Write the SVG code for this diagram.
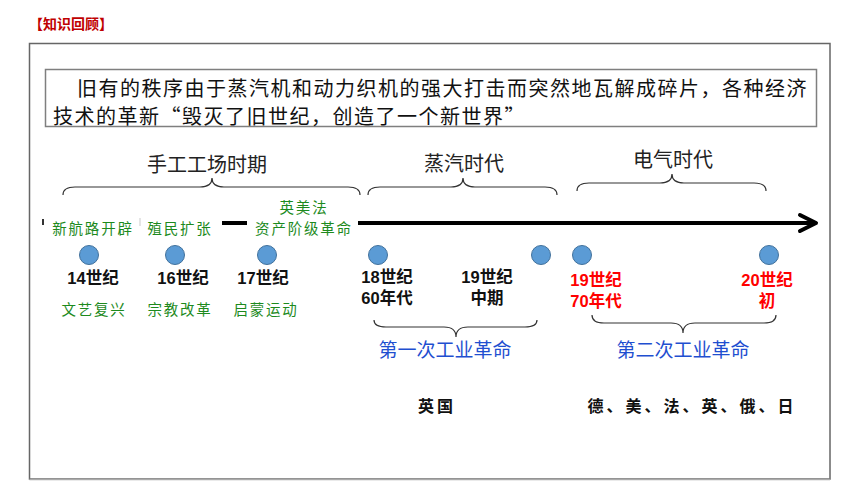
<svg xmlns="http://www.w3.org/2000/svg" width="860" height="484" viewBox="0 0 860 484">
<defs>
<style>
text{font-family:"Noto Sans CJK SC","Liberation Sans",sans-serif;dominant-baseline:central}
.title{font-size:14px;font-weight:bold;fill:#c00000}
.para{font-size:20px;fill:#111;letter-spacing:1.5px}
.era{font-size:20px;fill:#222;text-anchor:middle}
.green{font-size:14.5px;fill:#1d8a1d;text-anchor:middle;letter-spacing:1.8px}
.date{font-family:"Liberation Sans","Noto Sans CJK SC",sans-serif;font-size:16.5px;font-weight:bold;fill:#111;text-anchor:middle}
.red{fill:#ff0000}
.rev{font-size:19px;fill:#1f4fd0;text-anchor:middle}
.cty{font-size:16px;font-weight:bold;fill:#111;text-anchor:middle;letter-spacing:3px}
.dot{fill:#5b9bd5;stroke:#41719c;stroke-width:1}
.brace{fill:none;stroke:#333;stroke-width:1.2}
.tl{stroke:#000;stroke-width:4;fill:none}
</style>
</defs>
<rect width="860" height="484" fill="#fff"/>
<text class="title" x="29" y="23">【知识回顾】</text>
<rect x="29.5" y="43.5" width="800.5" height="435.5" fill="none" stroke="#666" stroke-width="1.5"/>
<line x1="29.5" y1="479.5" x2="830" y2="479.5" stroke="#aaa" stroke-width="1.5"/>
<g id="quote">
<rect x="45.5" y="69.5" width="771" height="57" fill="none" stroke="#7f7f7f" stroke-width="1.5"/>
<text class="para" x="77" y="87">旧有的秩序由于蒸汽机和动力织机的强大打击而突然地瓦解成碎片，各种经济</text>
<text class="para" x="53" y="115">技术的革新“毁灭了旧世纪，创造了一个新世界”</text>
</g>
<g id="connectors">
<rect x="42" y="219" width="2" height="6" fill="#333"/>
<rect x="139.5" y="218" width="1" height="8" fill="#ccc"/>
<line class="tl" x1="222" y1="223" x2="247" y2="223"/>
<line class="tl" x1="358" y1="223" x2="814" y2="223"/>
<polyline class="tl" points="800,215 816,223 800,231" stroke-linecap="round" stroke-linejoin="round"/>
<path class="brace" d="M63,195 Q63,187 75,187 L200,187 Q212,187 212,178 Q212,187 224,187 L348,187 Q360,187 360,195"/>
<path class="brace" d="M368,195 Q368,187 380,187 L451,187 Q463,187 463,178 Q463,187 475,187 L545,187 Q557,187 557,195"/>
<path class="brace" d="M577,191 Q577,183 589,183 L660,183 Q672,183 672,174 Q672,183 684,183 L754,183 Q766,183 766,191"/>
<path class="brace" d="M374,320 Q374,327 386,327 L444,327 Q456,327 456,337 Q456,327 468,327 L525,327 Q537,327 537,320"/>
<path class="brace" d="M592,315 Q592,323 604,323 L671,323 Q683,323 683,333 Q683,323 695,323 L764,323 Q776,323 776,315"/>
</g>
<g id="eras">
<text class="era" x="207" y="163">手工工场时期</text>
<text class="era" x="464" y="162">蒸汽时代</text>
<text class="era" x="673" y="158">电气时代</text>
</g>
<g id="n14">
<text class="green" x="93" y="227">新航路开辟</text>
<circle class="dot" cx="89" cy="255" r="9.5"/>
<text class="date" x="93" y="278">14世纪</text>
<text class="green" x="94" y="308">文艺复兴</text>
</g>
<g id="n16">
<text class="green" x="180" y="227">殖民扩张</text>
<circle class="dot" cx="175" cy="255" r="9.5"/>
<text class="date" x="183" y="278">16世纪</text>
<text class="green" x="180" y="308">宗教改革</text>
</g>
<g id="n17">
<text class="green" x="304" y="206">英美法</text>
<text class="green" x="304" y="227">资产阶级革命</text>
<circle class="dot" cx="267" cy="255" r="9.5"/>
<text class="date" x="263" y="278">17世纪</text>
<text class="green" x="266" y="308">启蒙运动</text>
</g>
<g id="n18">
<circle class="dot" cx="378" cy="255" r="9.5"/>
<text class="date" x="387" y="277">18世纪</text>
<text class="date" x="387" y="298">60年代</text>
</g>
<g id="n19a">
<circle class="dot" cx="541" cy="255" r="9.5"/>
<text class="date" x="487" y="277">19世纪</text>
<text class="date" x="487" y="298">中期</text>
</g>
<g id="n19b">
<circle class="dot" cx="582" cy="255" r="9.5"/>
<text class="date red" x="596" y="280">19世纪</text>
<text class="date red" x="596" y="301">70年代</text>
</g>
<g id="n20">
<circle class="dot" cx="769" cy="255" r="9.5"/>
<text class="date red" x="767" y="280">20世纪</text>
<text class="date red" x="767" y="301">初</text>
</g>
<g id="rev1">
<text class="rev" x="445" y="348">第一次工业革命</text>
<text class="cty" x="437" y="405">英国</text>
</g>
<g id="rev2">
<text class="rev" x="683" y="348">第二次工业革命</text>
<text class="cty" x="692" y="405">德、美、法、英、俄、日</text>
</g>
</svg>
